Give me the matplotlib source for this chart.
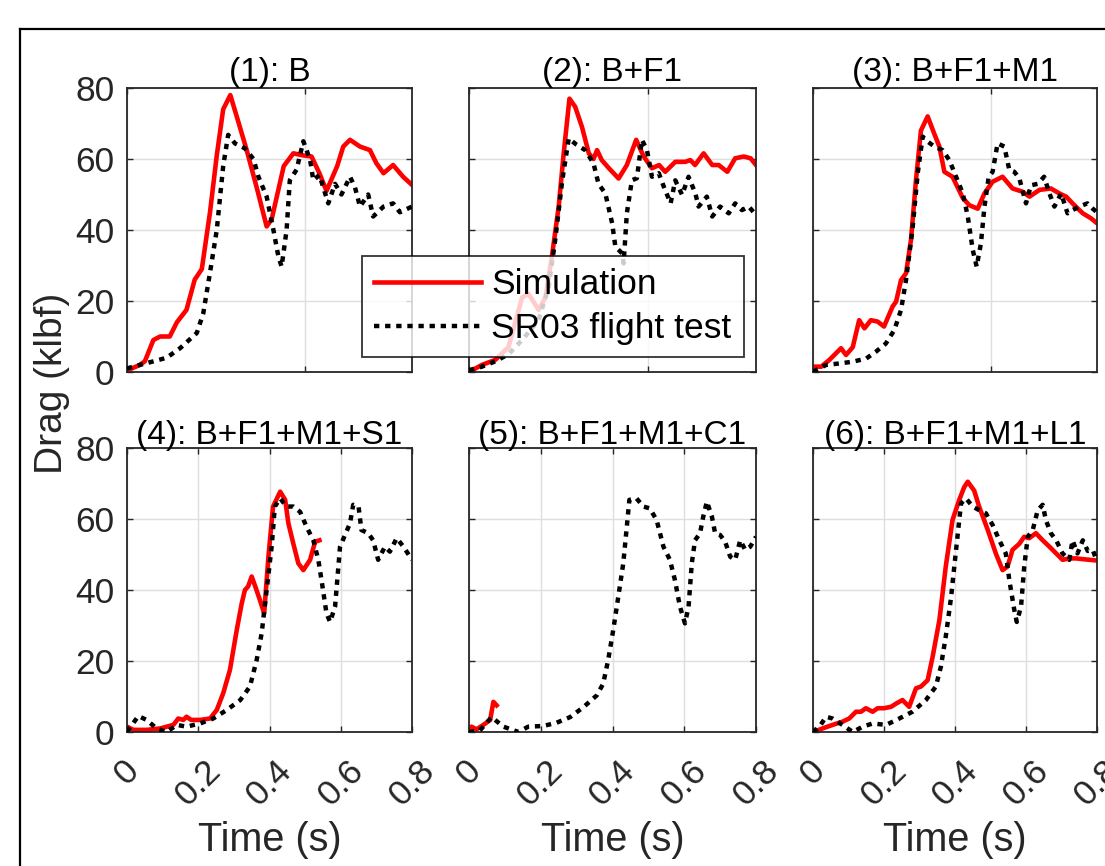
import matplotlib
matplotlib.use('Agg')
import matplotlib.pyplot as plt
from matplotlib.lines import Line2D

plt.rcParams['font.family'] = ['Liberation Sans', 'DejaVu Sans']

titles = ['(1): B', '(2): B+F1', '(3): B+F1+M1',
          '(4): B+F1+M1+S1', '(5): B+F1+M1+C1', '(6): B+F1+M1+L1']

# (1) B
t1_sim = [0, 0.036, 0.05, 0.074, 0.093, 0.12, 0.14, 0.167, 0.19, 0.21, 0.233, 0.252,
          0.27, 0.29, 0.308, 0.336, 0.364, 0.392, 0.406, 0.44, 0.467, 0.495, 0.518,
          0.54, 0.56, 0.59, 0.607, 0.626, 0.654, 0.682, 0.70, 0.72, 0.747, 0.775, 0.8]
f1_sim = [0.4, 2, 3, 9, 10, 10, 14, 17.5, 26, 29, 45, 61, 74, 78, 72, 62.5, 52, 41, 43,
          58, 61.6, 61, 60.7, 56, 51, 58, 63.5, 65.4, 63.5, 62.5, 58.8, 56, 58.3, 55, 52.7]
t1_test = [0, 0.036, 0.074, 0.111, 0.149, 0.196, 0.214, 0.233, 0.252, 0.27, 0.284, 0.303,
           0.331, 0.355, 0.369, 0.392, 0.411, 0.425, 0.434, 0.448, 0.457, 0.476, 0.495,
           0.514, 0.523, 0.54, 0.565, 0.584, 0.602, 0.626, 0.64, 0.654, 0.677, 0.691,
           0.72, 0.747, 0.766, 0.8]
f1_test = [1, 2, 3, 4, 6.7, 11, 16.5, 28, 40, 58, 66.8, 64.4, 63, 60, 55, 49.4, 40, 32.5,
           29.7, 40, 54, 57, 65, 59.7, 54, 55.5, 47.5, 53, 50, 55, 52, 46.6, 50, 43.8,
           46.6, 47.5, 45, 46.6]

# (2) B+F1
t2_sim = [0, 0.036, 0.073, 0.11, 0.148, 0.166, 0.194, 0.213, 0.231, 0.25, 0.264, 0.28,
          0.296, 0.315, 0.334, 0.347, 0.357, 0.37, 0.39, 0.417, 0.44, 0.466, 0.487, 0.51,
          0.53, 0.547, 0.575, 0.603, 0.617, 0.63, 0.654, 0.678, 0.696, 0.72, 0.742,
          0.766, 0.785, 0.8]
f2_sim = [0, 2, 3.4, 7, 21, 22, 17.5, 21, 32.5, 46.6, 61.6, 77, 74.7, 69, 61.6, 60, 62.5,
          59.7, 57.4, 54.5, 58.3, 65.4, 60.7, 57.4, 58.3, 56.4, 59.2, 59.2, 59.7, 58.3,
          61.6, 58.3, 58.3, 56.4, 60.2, 60.7, 60.2, 58.3]
t2_test = [0, 0.036, 0.073, 0.11, 0.148, 0.194, 0.222, 0.24, 0.26, 0.278, 0.3, 0.324,
           0.347, 0.361, 0.38, 0.399, 0.408, 0.427, 0.431, 0.44, 0.454, 0.468, 0.482,
           0.496, 0.51, 0.529, 0.543, 0.562, 0.575, 0.594, 0.612, 0.631, 0.64, 0.663,
           0.678, 0.7, 0.724, 0.742, 0.761, 0.78, 0.8]
f2_test = [0.5, 1.5, 3, 5, 9, 14.6, 24, 37, 54, 65.8, 64, 62.5, 58.8, 53, 50.3, 41.9,
           35.3, 33.4, 30.6, 44.7, 54, 54.6, 65.4, 62.5, 55, 56, 52.2, 47.5, 54, 49.9, 55,
           50.3, 46.6, 49.4, 43.8, 46.6, 44.7, 47.5, 45.6, 46.6, 44.2]

# (3) B+F1+M1
t3_sim = [0, 0.023, 0.046, 0.079, 0.093, 0.112, 0.13, 0.145, 0.163, 0.182, 0.2, 0.224,
          0.234, 0.248, 0.262, 0.276, 0.29, 0.304, 0.323, 0.342, 0.356, 0.37, 0.393,
          0.422, 0.44, 0.464, 0.483, 0.506, 0.534, 0.562, 0.59, 0.61, 0.638, 0.67, 0.694,
          0.713, 0.736, 0.76, 0.783, 0.8]
f3_sim = [1.5, 1.5, 3.4, 6.7, 4.8, 7, 14.6, 12.3, 14.6, 14.2, 12.8, 18.4, 19.8, 25.9,
          27.8, 37.2, 54, 68, 72, 67, 63.5, 56.4, 55, 49, 47, 46, 50.3, 53.6, 55, 51.7,
          50.8, 49.4, 51.3, 51.7, 50.3, 49.4, 47, 44.7, 43.3, 41.9]
t3_test = [0, 0.037, 0.074, 0.112, 0.15, 0.177, 0.205, 0.229, 0.248, 0.262, 0.28, 0.295,
           0.309, 0.323, 0.342, 0.365, 0.384, 0.403, 0.422, 0.436, 0.45, 0.461, 0.473,
           0.483, 0.495, 0.506, 0.52, 0.539, 0.553, 0.567, 0.581, 0.6, 0.614, 0.633,
           0.651, 0.666, 0.68, 0.699, 0.717, 0.731, 0.75, 0.773, 0.788, 0.8]
f3_test = [0.1, 2, 2.4, 2.9, 3.8, 5.7, 8, 11.8, 17.5, 25.9, 40, 56, 66.3, 64.9, 63.5,
           62.5, 59.7, 55, 50.3, 43.8, 34.4, 29.7, 36.2, 46.6, 55, 56.4, 64.4, 63.5, 56.9,
           56.4, 54.6, 47.5, 52.6, 53, 55, 50.3, 46.6, 50.3, 44.7, 45.6, 46.6, 47.5, 46, 45]

# (4) B+F1+M1+S1
t4_sim = [0, 0.018, 0.055, 0.093, 0.13, 0.144, 0.158, 0.167, 0.18, 0.205, 0.233, 0.252,
          0.27, 0.289, 0.308, 0.322, 0.331, 0.34, 0.35, 0.36, 0.373, 0.385, 0.397, 0.41,
          0.43, 0.444, 0.453, 0.467, 0.481, 0.495, 0.514, 0.528, 0.54]
f4_sim = [1.5, 0.6, 0.6, 1, 2, 3.8, 3.4, 4.3, 3.4, 3.4, 3.8, 6.2, 10.9, 17.5, 28.7, 36.2,
          40, 41, 43.8, 41, 37.2, 33.4, 49.4, 63.5, 67.7, 65.4, 58.8, 53, 47.5, 45.6,
          48.5, 53.6, 54]
t4_test = [0, 0.032, 0.055, 0.083, 0.111, 0.14, 0.167, 0.205, 0.242, 0.28, 0.318, 0.345,
           0.364, 0.378, 0.392, 0.406, 0.415, 0.43, 0.448, 0.467, 0.486, 0.504, 0.523,
           0.537, 0.546, 0.56, 0.57, 0.584, 0.598, 0.612, 0.626, 0.635, 0.65, 0.658,
           0.677, 0.691, 0.705, 0.724, 0.738, 0.757, 0.776, 0.8]
f4_test = [0.1, 4.5, 3.4, 1, 0, 2, 1.5, 2.4, 3.8, 6.2, 9, 12.8, 20.3, 27.8, 40, 52.2,
           63.5, 65.8, 63.5, 63.5, 62, 57.8, 54, 48.5, 42.8, 33.4, 31, 35.3, 52.2, 55.5,
           58.8, 64, 63.5, 56.9, 56, 54, 48.5, 52.2, 50.8, 54.6, 52.2, 48.5]

# (5) B+F1+M1+C1
t5_sim = [0, 0.007, 0.021, 0.04, 0.059, 0.068, 0.077]
f5_sim = [0, 1.5, 0.75, 2, 3.4, 8.5, 7.5]
t5_test = [0, 0.03, 0.063, 0.096, 0.138, 0.165, 0.207, 0.244, 0.282, 0.319, 0.356,
           0.374, 0.388, 0.402, 0.416, 0.43, 0.439, 0.447, 0.467, 0.486, 0.504, 0.523,
           0.542, 0.56, 0.574, 0.588, 0.602, 0.612, 0.621, 0.63, 0.644, 0.653, 0.663,
           0.677, 0.686, 0.7, 0.714, 0.728, 0.742, 0.756, 0.77, 0.784, 0.8]
f5_test = [0, 0.4, 4.2, 1.5, 0, 1.5, 1.7, 2.6, 4.2, 7, 10.3, 13.6, 20.3, 28.7, 38, 47.5,
           56.9, 65.4, 65.8, 63.5, 63, 59.7, 52.2, 48.5, 42.8, 35.3, 30.6, 35.3, 47.5, 54,
           56, 60.7, 64.9, 60.7, 56, 55.5, 53.6, 49.4, 48.5, 54, 51.3, 52.2, 55]

# (6) B+F1+M1+L1
t6_sim = [0, 0.027, 0.055, 0.083, 0.102, 0.121, 0.135, 0.149, 0.168, 0.182, 0.2, 0.22,
          0.234, 0.252, 0.271, 0.29, 0.304, 0.323, 0.337, 0.356, 0.374, 0.393, 0.412,
          0.426, 0.436, 0.454, 0.468, 0.492, 0.515, 0.534, 0.548, 0.562, 0.581, 0.595,
          0.609, 0.628, 0.647, 0.666, 0.685, 0.703, 0.722, 0.741, 0.769, 0.8]
f6_sim = [0, 1, 2, 2.9, 3.8, 5.7, 5.7, 6.7, 5.7, 6.7, 6.7, 7.1, 8, 9, 7.1, 12.3, 12.8,
          14.6, 21.2, 31.5, 46.6, 59.7, 65.4, 69, 70.5, 68, 63.5, 57, 50.3, 45.6, 46.6,
          51.3, 53, 55, 54.6, 56, 54, 52.2, 50.3, 48.5, 48.9, 48.9, 48.6, 48.3]
t6_test = [0, 0.018, 0.037, 0.055, 0.083, 0.112, 0.14, 0.168, 0.206, 0.243, 0.28, 0.318,
           0.346, 0.36, 0.374, 0.389, 0.398, 0.408, 0.417, 0.431, 0.45, 0.468, 0.487,
           0.506, 0.525, 0.543, 0.553, 0.567, 0.574, 0.586, 0.595, 0.605, 0.619, 0.633,
           0.647, 0.656, 0.67, 0.685, 0.703, 0.722, 0.731, 0.745, 0.76, 0.774, 0.788, 0.8]
f6_test = [0, 1.5, 4.3, 3.8, 2, 0, 1.5, 2.4, 2, 3.8, 5.7, 9, 12.8, 18.3, 26.9, 38, 46.6,
           56, 64.4, 65.8, 63.5, 62.5, 61.6, 58.3, 54, 50.3, 42.8, 34.4, 31, 35.3, 46.6,
           55, 56.9, 62.5, 64, 59.7, 56, 54, 50.3, 48.5, 54, 50.3, 54, 51, 51.3, 48]

sims = [(t1_sim, f1_sim), (t2_sim, f2_sim), (t3_sim, f3_sim),
        (t4_sim, f4_sim), (t5_sim, f5_sim), (t6_sim, f6_sim)]
tests = [(t1_test, f1_test), (t2_test, f2_test), (t3_test, f3_test),
         (t4_test, f4_test), (t5_test, f5_test), (t6_test, f6_test)]

W, H = 1105, 866
fig = plt.figure(figsize=(W / 100, H / 100), dpi=100)

cols = [(127, 412), (469, 756), (813, 1097)]
rows = [(88, 372), (448, 732)]
dark = '#262626'
dots = (0, (1.2, 1.3))

for i in range(6):
    r, c = divmod(i, 3)
    x0, x1 = cols[c]
    y0, y1 = rows[r]
    ax = fig.add_axes([x0 / W, 1 - y1 / H, (x1 - x0) / W, (y1 - y0) / H])
    ts, fs = sims[i]
    tt, ft = tests[i]
    ax.plot(tt, ft, color='black', lw=3.2, linestyle=dots,
            dash_capstyle='butt', label='SR03 flight test', zorder=3)
    ax.plot(ts, fs, color='#ff0000', lw=3.3, label='Simulation', zorder=2)
    ax.set_xlim(0, 0.8)
    ax.set_ylim(0, 80)
    ax.set_yticks([0, 20, 40, 60, 80])
    if r == 0:
        ax.set_xticks([0, 0.5])
        ax.set_xticklabels([])
    else:
        ax.set_xticks([0, 0.2, 0.4, 0.6, 0.8])
        ax.set_xticklabels(['0', '0.2', '0.4', '0.6', '0.8'], rotation=45,
                           ha='center', va='top')
        ax.set_xlabel('Time (s)', fontsize=28.5, color=dark, labelpad=6)
    if c != 0:
        ax.set_yticklabels([])
    ax.grid(True, color='#dedede', lw=1.0)
    ax.set_axisbelow(True)
    ax.tick_params(direction='in', top=True, right=True, length=4, width=1,
                   colors=dark, labelsize=25.5)
    ax.tick_params(axis='y', pad=9)
    ax.tick_params(axis='x', pad=16)
    for s in ax.spines.values():
        s.set_color(dark)
        s.set_linewidth(1.3)
    ax.set_title(titles[i], fontsize=24, pad=3, color='black')

fig.text(52 / W, 1 - 383 / H, 'Drag (klbf)', rotation=90, ha='center', va='center',
         fontsize=28, color=dark)

handles = [Line2D([], [], color='#ff0000', lw=3.3),
           Line2D([], [], color='black', lw=3.2, linestyle=dots,
                  dash_capstyle='butt')]
leg = fig.legend(handles, ['Simulation', 'SR03 flight test'], loc='upper left',
                 bbox_to_anchor=(362 / W, 1 - 256 / H), borderaxespad=0,
                 fontsize=25.5, handlelength=3.0, handletextpad=0.3,
                 borderpad=0.35, labelspacing=0.3, fancybox=False,
                 framealpha=0.8, edgecolor='black')
leg.get_frame().set_linewidth(1.3)

# outer frame
fig.add_artist(Line2D([20 / W, 20 / W], [0, 1 - 29 / H], color='black', lw=1.6))
fig.add_artist(Line2D([20 / W, 1], [1 - 29 / H, 1 - 29 / H], color='black', lw=1.6))

fig.savefig('out.png', dpi=100)
